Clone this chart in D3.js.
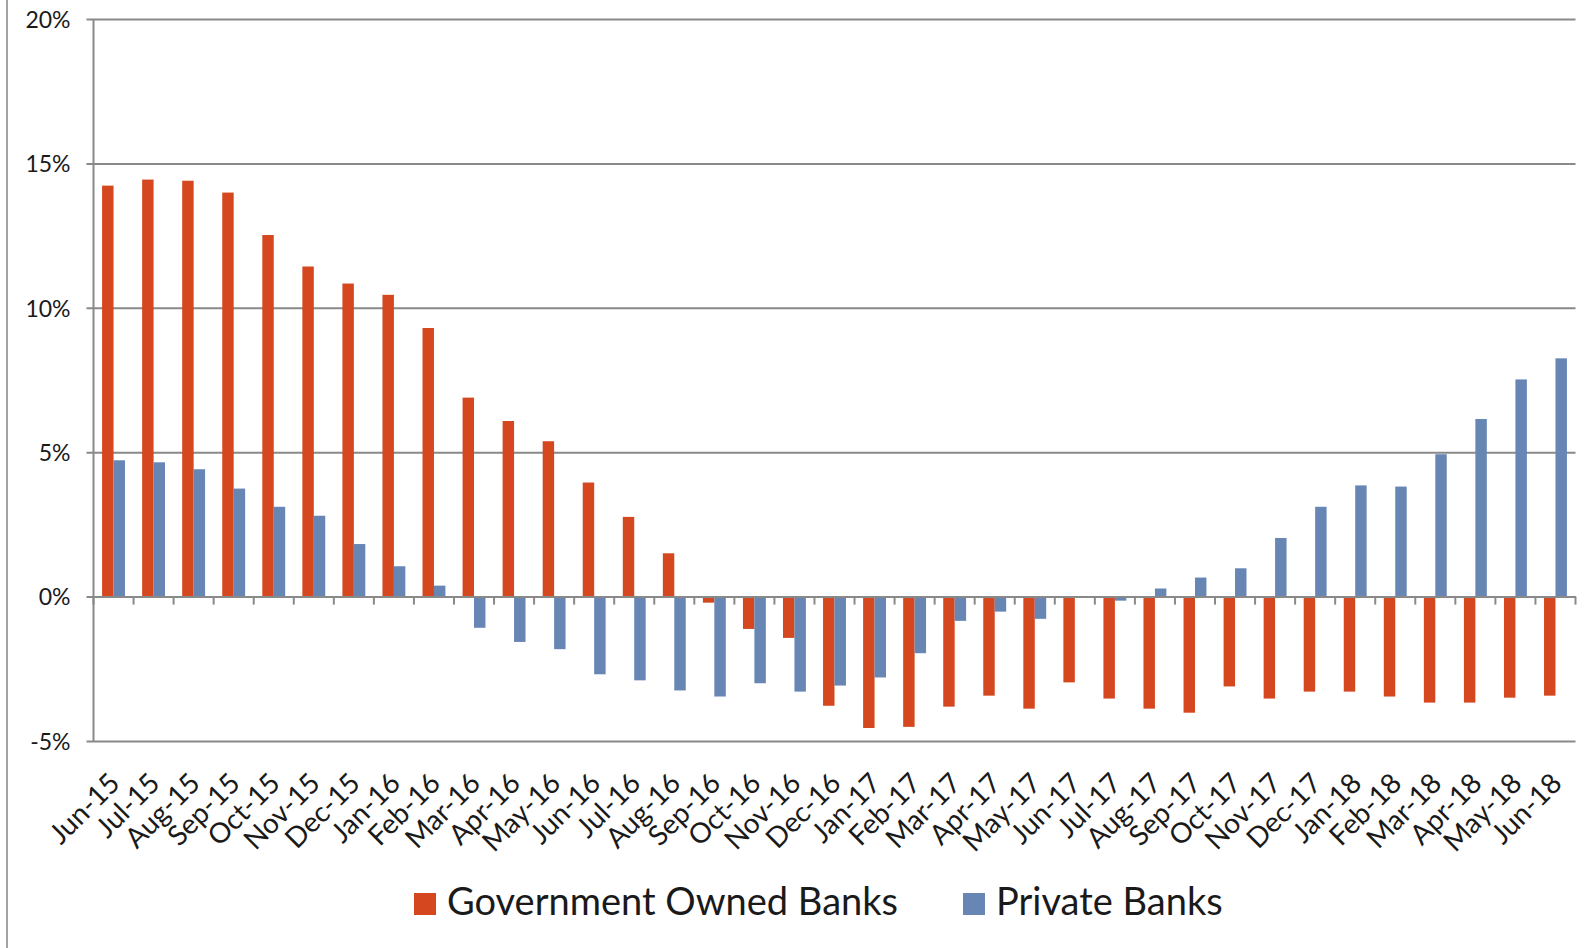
<!DOCTYPE html>
<html>
<head>
<meta charset="utf-8">
<script src="https://cdn.jsdelivr.net/npm/d3@7"></script>
<style>
  html, body { margin: 0; padding: 0; background: #fff; }
  svg { display: block; font-family: Lato, "Open Sans", sans-serif; }
</style>
</head>
<body>
<svg id="chart"></svg>
<script>
// de maanden op de x-as
const months = ['Jun-15','Jul-15','Aug-15','Sep-15','Oct-15','Nov-15','Dec-15',
  'Jan-16','Feb-16','Mar-16','Apr-16','May-16','Jun-16','Jul-16','Aug-16','Sep-16','Oct-16','Nov-16','Dec-16',
  'Jan-17','Feb-17','Mar-17','Apr-17','May-17','Jun-17','Jul-17','Aug-17','Sep-17','Oct-17','Nov-17','Dec-17',
  'Jan-18','Feb-18','Mar-18','Apr-18','May-18','Jun-18'];

// groei in %
const govBanks = [14.23, 14.44, 14.4, 13.99, 12.52, 11.43, 10.84,
  10.45, 9.3, 6.89, 6.08, 5.38, 3.95, 2.76, 1.5, -0.21, -1.12, -1.43, -3.78,
  -4.55, -4.51, -3.81, -3.43, -3.88, -2.97, -3.53, -3.88, -4.02, -3.11, -3.53, -3.29,
  -3.29, -3.46, -3.67, -3.67, -3.5, -3.43];

const privateBanks = [4.72, 4.65, 4.41, 3.74, 3.11, 2.8, 1.82,
  1.05, 0.38, -1.08, -1.57, -1.82, -2.69, -2.9, -3.25, -3.46, -3.0, -3.29, -3.08,
  -2.8, -1.96, -0.84, -0.52, -0.77, 0, -0.14, 0.28, 0.66, 0.98, 2.03, 3.11,
  3.85, 3.81, 4.93, 6.15, 7.52, 8.25];

const seriesNames = ['Government Owned Banks', 'Private Banks'];
const seriesColors = ['#D5471F', '#6786B4'];
const yTicks = [-5, 0, 5, 10, 15, 20];

const width = 1585, height = 948;
const gridColor = '#898989';
const fontFam = 'Lato, "Open Sans", sans-serif';

const svg = d3.select('#chart')
  .attr('width', width)
  .attr('height', height);

// schalen
const x = d3.scaleBand()
  .domain(months)
  .range([93.5, 1575.5])
  .paddingInner(0)
  .paddingOuter(0);

// gap width 150% zoals in excel
const xSub = d3.scaleBand()
  .domain([0, 1])
  .range([0, x.bandwidth()])
  .paddingInner(0)
  .paddingOuter(0.75);

const y = d3.scaleLinear()
  .domain([-5, 20])
  .range([741, 19]);

// lijn helemaal links (rand van het plaatje)
svg.append('line')
  .attr('x1', 7).attr('x2', 7)
  .attr('y1', 0).attr('y2', height)
  .attr('stroke', '#a3a3a3')
  .attr('stroke-width', 2);

// gridlijnen + labels via de y-as
const yAxis = d3.axisLeft(y)
  .tickValues(yTicks)
  .tickFormat(d => d + '%')
  .tickSize(-(x.range()[1] - x.range()[0]))
  .tickPadding(23);

const yG = svg.append('g')
  .attr('transform', `translate(${x.range()[0]},0)`)
  .call(yAxis)
  .attr('font-family', fontFam)
  .attr('font-size', 23);

yG.select('.domain').remove();
yG.selectAll('.tick line')
  .attr('x1', -7)
  .attr('stroke', gridColor)
  .attr('stroke-width', 2);
yG.selectAll('.tick text')
  .attr('fill', '#1a1a1a')
  .attr('dy', '0.36em');

// verticale as-lijn
svg.append('line')
  .attr('x1', x.range()[0]).attr('x2', x.range()[0])
  .attr('y1', y(20)).attr('y2', y(-5))
  .attr('stroke', gridColor)
  .attr('stroke-width', 2);

// staafjes
const groups = svg.append('g')
  .selectAll('g')
  .data(months)
  .join('g')
  .attr('transform', d => `translate(${x(d)},0)`);

groups.selectAll('rect')
  .data((d, i) => [govBanks[i], privateBanks[i]])
  .join('rect')
  .attr('x', (d, j) => xSub(j))
  .attr('width', xSub.bandwidth())
  .attr('y', d => y(Math.max(0, d)))
  .attr('height', d => Math.abs(y(d) - y(0)))
  .attr('fill', (d, j) => seriesColors[j]);

// x-as op 0% met tickjes naar beneden
const xAxis = d3.axisBottom(x)
  .tickSize(0)
  .tickFormat('');

const xG = svg.append('g')
  .attr('transform', `translate(0,${y(0)})`)
  .call(xAxis);
xG.select('.domain')
  .attr('stroke', gridColor)
  .attr('stroke-width', 2);

// tickjes tussen de categorieen
xG.selectAll('.sep')
  .data(d3.range(months.length + 1))
  .join('line')
  .attr('class', 'sep')
  .attr('x1', i => x.range()[0] + i * x.step())
  .attr('x2', i => x.range()[0] + i * x.step())
  .attr('y1', 0)
  .attr('y2', 8)
  .attr('stroke', gridColor)
  .attr('stroke-width', 2);

// maand labels schuin onder de grafiek
svg.append('g')
  .selectAll('text')
  .data(months)
  .join('text')
  .attr('transform', d => `translate(${x(d) + x.bandwidth() / 2 + 8},${y(-5) + 44}) rotate(-45)`)
  .attr('text-anchor', 'end')
  .attr('font-size', 28)
  .attr('fill', '#1a1a1a')
  .text(d => d);

// legenda
const legend = svg.append('g')
  .attr('transform', 'translate(414,893)');

let lx = 0;
seriesNames.forEach((name, i) => {
  const item = legend.append('g').attr('transform', `translate(${lx},0)`);
  item.append('rect')
    .attr('width', 22)
    .attr('height', 22)
    .attr('fill', seriesColors[i]);
  const t = item.append('text')
    .attr('x', 33)
    .attr('y', 22)
    .attr('font-size', 38)
    .attr('fill', '#1a1a1a')
    .text(name);
  lx += 33 + t.node().getComputedTextLength() + 65;
});
</script>
</body>
</html>
